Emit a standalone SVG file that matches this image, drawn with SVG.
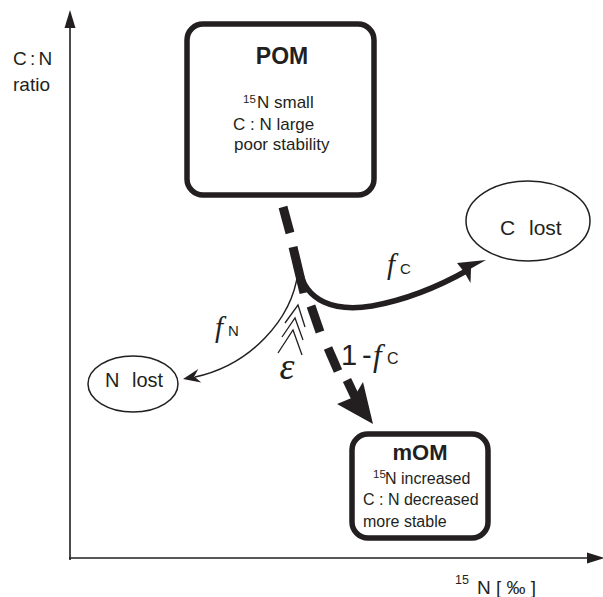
<svg xmlns="http://www.w3.org/2000/svg" width="603" height="597" viewBox="0 0 603 597">
<style>
.t{font-family:"Liberation Sans",Arial,sans-serif;fill:#231f20}
.b{font-family:"Liberation Sans",Arial,sans-serif;font-weight:bold;fill:#231f20}
.it{font-family:"Liberation Serif","Times New Roman",serif;font-style:italic;fill:#231f20}
.box{fill:#fff;stroke:#231f20;stroke-width:5.5}
.ell{fill:#fff;stroke:#231f20;stroke-width:1.5}
.ax{stroke:#231f20;stroke-width:1.6;fill:none}
.dash{stroke:#231f20;stroke-width:9;stroke-linecap:butt;fill:none}
.ah{fill:#231f20;stroke:none}
.chev{stroke:#231f20;stroke-width:1.3;fill:none}
</style>
<rect width="603" height="597" fill="#fff"/>
<g id="axes">
<line class="ax" x1="70" y1="560" x2="70" y2="26"/>
<polygon class="ah" points="70,10 64.5,28 75.5,28"/>
<line class="ax" x1="69" y1="558" x2="590" y2="558"/>
<polygon class="ah" points="605,558 587,552.5 587,563.5"/>
<text class="t" font-size="19" x="13" y="65" word-spacing="-2">C : N</text>
<text class="t" font-size="19" x="13" y="91">ratio</text>
<text class="t" font-size="19"><tspan x="455" y="584" font-size="12.5">15</tspan><tspan x="477" y="594">N [ ‰ ]</tspan></text>
</g>
<g id="connectors">
<path d="M298,272 C292,320 250,365 195,377" fill="none" stroke="#231f20" stroke-width="1.5"/>
<polygon class="ah" points="183,379 198.3,369 194.2,376.6 201.2,382.5"/>
<path d="M299,268 C305,302 335,312 372,306 C405,300 438,287 468,270" fill="none" stroke="#231f20" stroke-width="5.5"/>
<polygon class="ah" points="486,260 471,268.4 470.5,283 464,271.8 457,263"/>
<line class="dash" x1="283" y1="207" x2="290" y2="233"/>
<line class="dash" x1="293" y1="247" x2="304" y2="293"/>
<line class="dash" x1="311" y1="306" x2="320" y2="332"/>
<line class="dash" x1="328" y1="348" x2="338" y2="371"/>
<line class="dash" x1="347" y1="380" x2="356" y2="399"/>
<polygon class="ah" points="373,424 337,404 354,397 363,382"/>
<polyline class="chev" points="285,323 298,305 305,327"/>
<polyline class="chev" points="282,337 295,318 303,340"/>
<polyline class="chev" points="278,353 293,330 302,355"/>
<text class="it" font-size="38" x="287" y="379" text-anchor="middle">ε</text>
<text><tspan class="it" font-size="29" x="215" y="337">f</tspan><tspan class="t" font-size="15" x="228" y="336">N</tspan></text>
<text><tspan class="it" font-size="29" x="387" y="274">f</tspan><tspan class="t" font-size="15" x="400" y="274">C</tspan></text>
<text><tspan class="t" font-size="29" x="341" y="365">1</tspan><tspan class="t" font-size="29" x="362" y="365">-</tspan><tspan class="it" font-size="31" x="373" y="366">f</tspan><tspan class="t" font-size="16" x="387" y="364">C</tspan></text>
</g>
<g id="POM">
<rect class="box" x="187" y="24" width="187" height="171" rx="16"/>
<text class="b" font-size="23" x="282" y="64" text-anchor="middle">POM</text>
<text class="t" font-size="17"><tspan x="243" y="103" font-size="11.5">15</tspan><tspan x="257" y="108">N small</tspan></text>
<text class="t" font-size="17" x="233" y="130">C : N large</text>
<text class="t" font-size="17" x="234" y="150">poor stability</text>
</g>
<g id="mOM">
<rect class="box" x="352" y="434" width="136" height="104" rx="16"/>
<text class="b" font-size="22" x="420" y="460" text-anchor="middle">mOM</text>
<text class="t" font-size="16"><tspan x="373" y="478" font-size="11.5">15</tspan><tspan x="385" y="484">N increased</tspan></text>
<text class="t" font-size="16" x="363" y="505">C : N decreased</text>
<text class="t" font-size="16" x="363" y="527">more stable</text>
</g>
<g id="C_lost">
<ellipse class="ell" cx="528" cy="221" rx="62" ry="40"/>
<text class="t" font-size="21"><tspan x="500" y="235">C</tspan><tspan x="529" y="235">lost</tspan></text>
</g>
<g id="N_lost">
<ellipse class="ell" cx="133" cy="384" rx="45" ry="28"/>
<text class="t" font-size="20"><tspan x="105" y="387">N</tspan><tspan x="132" y="387">lost</tspan></text>
</g>
</svg>
